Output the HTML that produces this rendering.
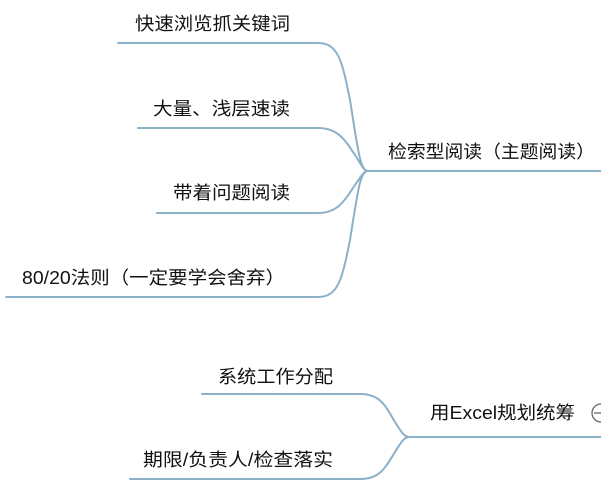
<!DOCTYPE html>
<html><head><meta charset="utf-8"><style>
html,body{margin:0;padding:0;background:#fff;}
svg{display:block}
text{font-family:"Liberation Sans","Noto Sans CJK SC",sans-serif;font-size:18px;fill:#111;}
</style></head><body>
<svg width="601" height="490" viewBox="0 0 601 490" xmlns="http://www.w3.org/2000/svg">
<g fill="none" stroke="#8db0c9" stroke-width="2" stroke-linecap="round">
<path d="M118 43 H318 C338 43 342 60 350 100 C358 150 360 171 368 171 H601"/>
<path d="M138 128 H318 C338 128 345 140 355 155 C362 166 364 171 368 171"/>
<path d="M157 213 H318 C338 213 345 200 355 185 C362 175 364 171 368 171"/>
<path d="M6 297 H318 C338 297 342 280 350 240 C358 190 360 171 368 171"/>
<path d="M202 394 H360 C380 394 385 405 395 422 C402 433 404 437 410 437 H601"/>
<path d="M130 479 H360 C380 479 385 468 395 452 C402 441 404 437 410 437"/>
</g>
<text x="135" y="30" textLength="155" lengthAdjust="spacingAndGlyphs">快速浏览抓关键词</text>
<text x="153" y="115" textLength="137" lengthAdjust="spacingAndGlyphs">大量、浅层速读</text>
<text x="173" y="199" textLength="117" lengthAdjust="spacingAndGlyphs">带着问题阅读</text>
<text x="22" y="284" textLength="263" lengthAdjust="spacingAndGlyphs">80/20法则（一定要学会舍弃）</text>
<text x="388" y="158" textLength="207" lengthAdjust="spacingAndGlyphs">检索型阅读（主题阅读）</text>
<text x="218" y="383" textLength="115" lengthAdjust="spacingAndGlyphs">系统工作分配</text>
<text x="143" y="466" textLength="190" lengthAdjust="spacingAndGlyphs">期限/负责人/检查落实</text>
<text x="430" y="419" textLength="145" lengthAdjust="spacingAndGlyphs">用Excel规划统筹</text>
<circle cx="601" cy="413" r="9" fill="#fff" stroke="#666" stroke-width="1.3"/>
<line x1="594" y1="413" x2="601" y2="413" stroke="#666" stroke-width="1.3"/>
</svg>
</body></html>
